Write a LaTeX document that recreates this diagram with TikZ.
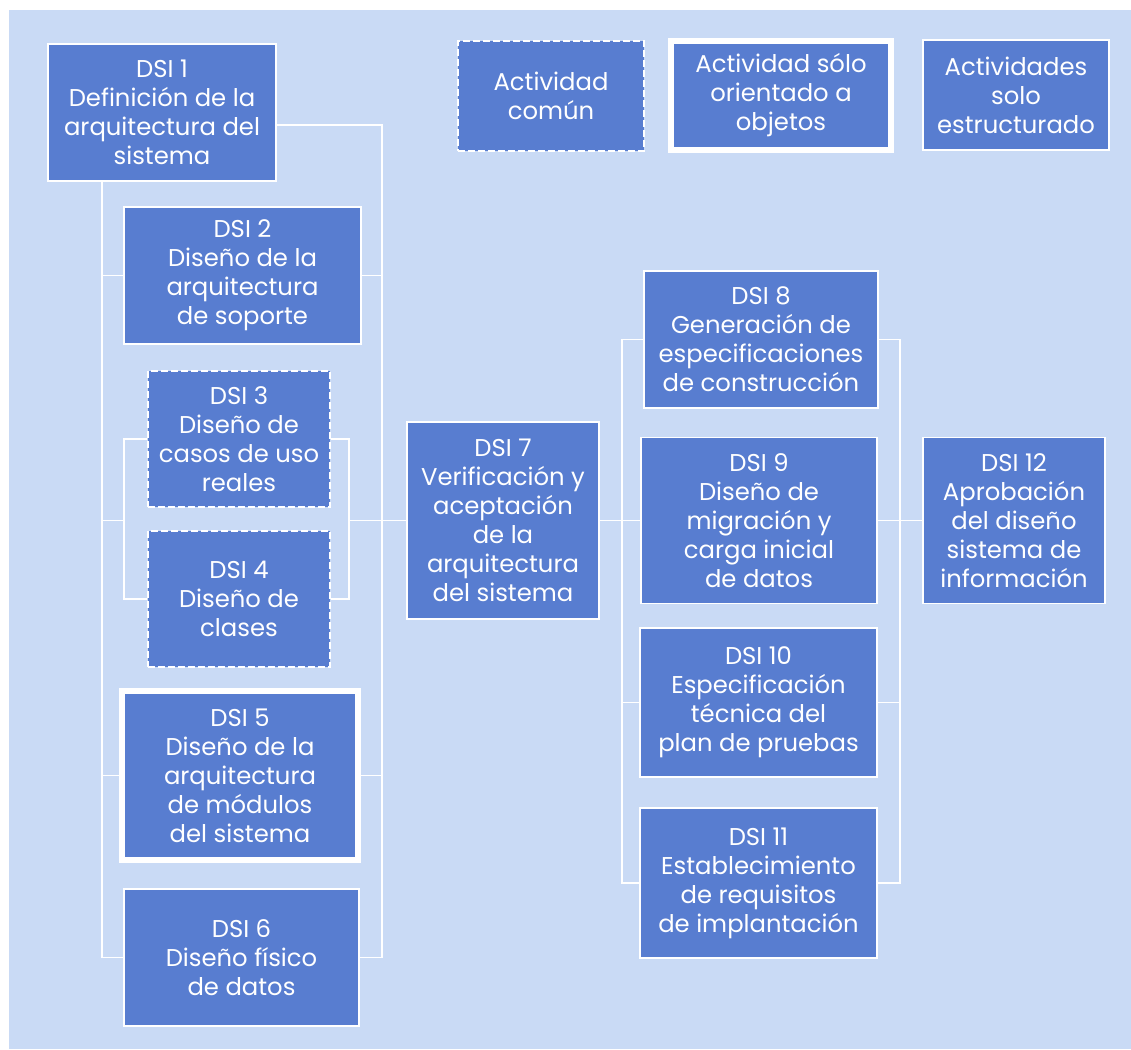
\documentclass[tikz,border=0pt]{standalone}
\usepackage{fontspec}
\setmainfont{Poppins}
\definecolor{fondo}{RGB}{201,218,245}
\definecolor{azulcaja}{RGB}{88,125,208}
\tikzset{
    actividad/.style = {
        draw=white,
        shape=rectangle,
        fill=azulcaja,
        text=white,
        align=center,
        inner sep=0pt,
        line width=1.5pt,
        font=\fontsize{24.3}{29}\selectfont
    },
    comun/.style = {
        actividad,
        line width=2.5pt,
        dash pattern=on 7pt off 3pt
    },
    objetos/.style = {
        actividad,
        line width=6pt
    },
    conector/.style = {
        draw=white,
        line width=1.5pt
    },
}

\begin{document}
\begin{tikzpicture}[x=1pt,y=-1pt]
            \useasboundingbox (0,0) rectangle (1131,1049);
            \fill[white] (0,0) rectangle (1131,1049);
            \fill[fondo] (9,10) rectangle (1131,1049);

            % leyenda
            \node[comun, minimum width=186pt, minimum height=110pt] (comun) at (551,96) {Actividad\\común};
            \node[objetos, minimum width=220pt, minimum height=109pt] (objetos) at (781,95.5) {Actividad sólo\\orientado a\\objetos};
            \node[actividad, minimum width=186pt, minimum height=110pt] (estructurado) at (1016,95) {Actividades\\solo\\estructurado};

            \node[actividad, minimum width=228pt, minimum height=137pt] (dsi1) at (162,112.5) {DSI 1\\Definición de la\\arquitectura del\\sistema};
            \node[actividad, minimum width=237pt, minimum height=137pt] (dsi2) at (242.5,275.5) {DSI 2\\Diseño de la\\arquitectura\\de soporte};
            \node[comun, minimum width=182pt, minimum height=136pt] (dsi3) at (239,439) {DSI 3\\Diseño de\\casos de uso\\reales};
            \node[comun, minimum width=182pt, minimum height=136pt] (dsi4) at (239,599) {DSI 4\\Diseño de\\clases};
            \node[objetos, minimum width=236pt, minimum height=169pt] (dsi5) at (240,775.5) {DSI 5\\Diseño de la\\arquitectura\\de módulos\\del sistema};
            \node[actividad, minimum width=235pt, minimum height=137pt] (dsi6) at (241.5,957.5) {DSI 6\\Diseño físico\\de datos};
            \node[actividad, minimum width=192pt, minimum height=197pt] (dsi7) at (503,520.5) {DSI 7\\Verificación y\\aceptación\\de la\\arquitectura\\del sistema};
            \node[actividad, minimum width=234pt, minimum height=137pt] (dsi8) at (761,339.5) {DSI 8\\Generación de\\especificaciones\\de construcción};
            \node[actividad, minimum width=236pt, minimum height=166pt] (dsi9) at (759,520.5) {DSI 9\\Diseño de\\migración y\\carga inicial\\de datos};
            \node[actividad, minimum width=237pt, minimum height=149pt] (dsi10) at (758.5,702.5) {DSI 10\\Especificación\\técnica del\\plan de pruebas};
            \node[actividad, minimum width=237pt, minimum height=150pt] (dsi11) at (758.5,883) {DSI 11\\Establecimiento\\de requisitos\\de implantación};
            \node[actividad, minimum width=182pt, minimum height=166pt] (dsi12) at (1014,520.5) {DSI 12\\Aprobación\\del diseño\\sistema de\\información};

            \coordinate (busizq) at (102,520.5);
            \coordinate (busder) at (382,520.5);
            \coordinate (corchizq) at (124,520.5);
            \coordinate (corchder) at (349,520.5);
            \coordinate (grupizq) at (622,520.5);
            \coordinate (grupder) at (900,520.5);

            \path[draw, conector] (dsi1.south -| busizq) |- (dsi6.west);
            \path[draw, conector] ([yshift=-12.5pt]dsi1.east) -| (dsi6.east -| busder) -- (dsi6.east);
            \foreach \n in {2,5} {
                \path[draw, conector] (dsi\n.west -| busizq) -- (dsi\n.west);
                \path[draw, conector] (dsi\n.east) -- (dsi\n.east -| busder);
            }
            \path[draw, conector] (dsi3.west) -| (dsi4.west -| corchizq) -- (dsi4.west);
            \path[draw, conector] (dsi3.east) -| (dsi4.east -| corchder) -- (dsi4.east);
            \path[draw, conector] (busizq) -- (corchizq);
            \path[draw, conector] (corchder) -- (dsi7.west);

            \path[draw, conector] (dsi8.west) -| (dsi11.west -| grupizq) -- (dsi11.west);
            \path[draw, conector] (dsi8.east) -| (dsi11.east -| grupder) -- (dsi11.east);
            \path[draw, conector] (dsi10.west -| grupizq) -- (dsi10.west);
            \path[draw, conector] (dsi10.east) -- (dsi10.east -| grupder);
            \path[draw, conector] (dsi7.east) -- (dsi9.west);
            \path[draw, conector] (dsi9.east) -- (dsi12.west);

\end{tikzpicture}
\end{document}
